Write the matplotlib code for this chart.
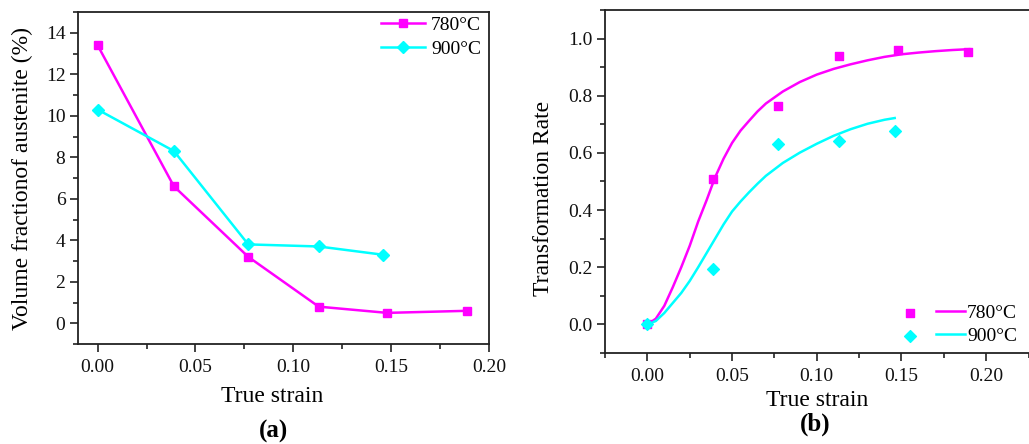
import matplotlib
matplotlib.use("Agg")
import matplotlib.pyplot as plt
from matplotlib.ticker import MultipleLocator
from matplotlib.legend_handler import HandlerTuple

plt.rcParams['font.family'] = ['Liberation Serif', 'DejaVu Serif']

MAG = '#ff00ff'
CYA = '#00ffff'
DARK = '#222222'

# (a) volume fraction of austenite
strain_780 = [0.0, 0.039, 0.077, 0.113, 0.148, 0.189]
vol_780 = [13.4, 6.6, 3.2, 0.8, 0.5, 0.6]
strain_900 = [0.0, 0.039, 0.077, 0.113, 0.146]
vol_900 = [10.3, 8.3, 3.8, 3.7, 3.3]

# (b) transformation rate, measured points
rate_780 = [0.0, 0.508, 0.763, 0.940, 0.959, 0.953]
rate_900 = [0.0, 0.193, 0.630, 0.640, 0.677]

# (b) fitted curves
fit_x_780 = [0.0, 0.005, 0.01, 0.015, 0.02, 0.025, 0.03, 0.035, 0.04, 0.045,
             0.05, 0.055, 0.06, 0.065, 0.07, 0.08, 0.09, 0.10, 0.11, 0.12,
             0.13, 0.14, 0.15, 0.16, 0.17, 0.18, 0.19]
fit_y_780 = [0.0, 0.02, 0.065, 0.13, 0.20, 0.275, 0.36, 0.435, 0.515, 0.58,
             0.635, 0.678, 0.712, 0.745, 0.773, 0.815, 0.848, 0.874, 0.894, 0.910,
             0.924, 0.936, 0.945, 0.951, 0.956, 0.960, 0.963]
fit_x_900 = [0.0, 0.005, 0.01, 0.015, 0.02, 0.025, 0.03, 0.035, 0.04, 0.045,
             0.05, 0.055, 0.06, 0.065, 0.07, 0.08, 0.09, 0.10, 0.11, 0.12,
             0.13, 0.14, 0.146]
fit_y_900 = [0.0, 0.012, 0.04, 0.075, 0.11, 0.152, 0.20, 0.25, 0.30, 0.35,
             0.395, 0.43, 0.462, 0.492, 0.52, 0.565, 0.601, 0.632, 0.660, 0.683,
             0.702, 0.716, 0.722]

fig = plt.figure(figsize=(10.29, 4.44), dpi=100)
ax1 = fig.add_axes([78 / 1029, 1 - 344 / 444, 411 / 1029, 332 / 444])
ax2 = fig.add_axes([605 / 1029, 1 - 353 / 444, 432 / 1029, 343 / 444])


def style(ax):
    for s in ax.spines.values():
        s.set_color(DARK)
        s.set_linewidth(1.3)
    ax.tick_params(which='both', direction='out', top=False, right=False,
                   color=DARK, width=1.2, labelsize=14, labelcolor='#111111')
    ax.tick_params(which='major', length=5.5)
    ax.tick_params(which='minor', length=3.5)
    ax.tick_params(axis='x', pad=5)
    ax.tick_params(axis='y', pad=3.5)


# ---- (a)
ax1.plot(strain_780, vol_780, color=MAG, lw=1.8, marker='s', ms=6, label='780°C')
ax1.plot(strain_900, vol_900, color=CYA, lw=1.8, marker='D', ms=6, label='900°C')
ax1.set_xlim(-0.01, 0.20)
ax1.set_ylim(-1, 15)
ax1.xaxis.set_major_locator(MultipleLocator(0.05))
ax1.xaxis.set_minor_locator(MultipleLocator(0.025))
ax1.yaxis.set_major_locator(MultipleLocator(2))
ax1.yaxis.set_minor_locator(MultipleLocator(1))
ax1.xaxis.set_major_formatter(plt.FormatStrFormatter('%.2f'))
style(ax1)
ax1.set_xlabel('True strain', fontsize=17)
ax1.set_ylabel('Volume fractionof austenite (%)', fontsize=17)
ax1.xaxis.set_label_coords(0.472, -0.128)
ax1.yaxis.set_label_coords(-0.109, 0.5)
ax1.legend(loc='upper right', frameon=False, fontsize=14, handlelength=2.3,
           handletextpad=0.3, borderaxespad=0.0, labelspacing=0.3,
           bbox_to_anchor=(1.0, 1.01))

# ---- (b)
p1 = ax2.scatter(strain_780, rate_780, marker='s', s=40, color=MAG, zorder=3)
l1, = ax2.plot(fit_x_780, fit_y_780, color=MAG, lw=1.8)
p2 = ax2.scatter(strain_900, rate_900, marker='D', s=36, color=CYA, zorder=3)
l2, = ax2.plot(fit_x_900, fit_y_900, color=CYA, lw=1.8)
ax2.set_xlim(-0.025, 0.23)
ax2.set_ylim(-0.1, 1.1)
ax2.xaxis.set_major_locator(MultipleLocator(0.05))
ax2.xaxis.set_minor_locator(MultipleLocator(0.025))
ax2.yaxis.set_major_locator(MultipleLocator(0.2))
ax2.yaxis.set_minor_locator(MultipleLocator(0.1))
ax2.xaxis.set_major_formatter(plt.FormatStrFormatter('%.2f'))
ax2.yaxis.set_major_formatter(plt.FormatStrFormatter('%.1f'))
style(ax2)
ax2.set_xlabel('True strain', fontsize=17)
ax2.set_ylabel('Transformation Rate', fontsize=17)
ax2.xaxis.set_label_coords(0.49, -0.108)
ax2.yaxis.set_label_coords(-0.118, 0.45)
ax2.legend([(p1, l1), (p2, l2)], ['780°C', '900°C'],
           handler_map={tuple: HandlerTuple(ndivide=None, pad=0.6)},
           loc='lower right', frameon=False, fontsize=14, handlelength=3.6,
           handletextpad=0.1, borderaxespad=0.0, labelspacing=0.3,
           bbox_to_anchor=(0.972, 0.0))

fig.text(273 / 1029, 1 - 431 / 444, '(a)', fontsize=18, fontweight='bold',
         ha='center', va='center')
fig.text(815 / 1029, 1 - 424 / 444, '(b)', fontsize=18, fontweight='bold',
         ha='center', va='center')

fig.savefig('out.png', dpi=100)
